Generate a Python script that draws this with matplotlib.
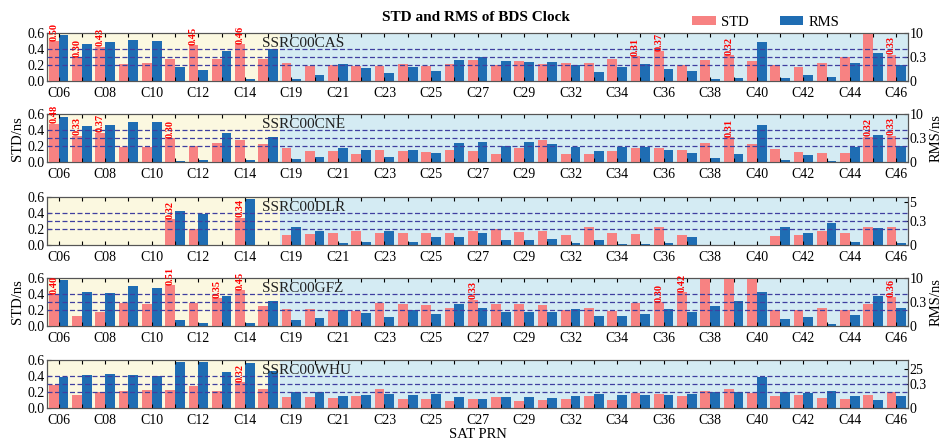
import numpy as np
import matplotlib
matplotlib.use('Agg')
import matplotlib.pyplot as plt

plt.rcParams['font.family'] = ['Liberation Serif', 'DejaVu Serif']
plt.rcParams['font.size'] = 10

nan = np.nan

# satellites (BDS PRN)
sats = ['C06', 'C07', 'C08', 'C09', 'C10', 'C11', 'C12', 'C13', 'C14', 'C16',
        'C19', 'C20', 'C21', 'C22', 'C23', 'C24', 'C25', 'C26', 'C27', 'C28',
        'C29', 'C30', 'C32', 'C33', 'C34', 'C35', 'C36', 'C37', 'C38', 'C39',
        'C40', 'C41', 'C42', 'C43', 'C44', 'C45', 'C46']

centers = ['SSRC00CAS', 'SSRC00CNE', 'SSRC00DLR', 'SSRC00GFZ', 'SSRC00WHU']

# STD (ns)
std_cas = [0.50, 0.30, 0.43, 0.21, 0.23, 0.28, 0.45, 0.27, 0.46, 0.27,
           0.22, 0.19, 0.195, 0.19, 0.19, 0.21, 0.19, 0.21, 0.26, 0.195,
           0.245, 0.21, 0.23, 0.23, 0.275, 0.31, 0.37, 0.20, 0.265, 0.32,
           0.245, 0.20, 0.175, 0.23, 0.295, 0.80, 0.33]
std_cne = [0.48, 0.33, 0.37, 0.185, 0.185, 0.30, 0.20, 0.245, 0.275, 0.23,
           0.18, 0.145, 0.135, 0.10, 0.155, 0.135, 0.13, 0.15, 0.145, 0.105,
           0.175, 0.275, 0.105, 0.105, 0.145, 0.175, 0.18, 0.15, 0.235, 0.31,
           0.23, 0.16, 0.13, 0.12, 0.12, 0.32, 0.33]
std_dlr = [nan, nan, nan, nan, nan, 0.32, 0.20, nan, 0.34, nan,
           0.13, 0.135, 0.145, 0.18, 0.145, 0.15, 0.155, 0.155, 0.178, 0.20,
           0.157, 0.18, 0.125, 0.225, 0.145, 0.135, 0.22, 0.13, nan, nan,
           nan, 0.11, 0.13, 0.18, 0.15, 0.23, 0.22]
std_gfz = [0.40, 0.125, 0.175, 0.29, 0.27, 0.51, 0.29, 0.35, 0.45, 0.245,
           0.21, 0.21, 0.195, 0.19, 0.29, 0.27, 0.265, 0.23, 0.33, 0.28,
           0.27, 0.26, 0.20, 0.23, 0.185, 0.29, 0.30, 0.42, 0.85, 0.90,
           0.80, 0.205, 0.205, 0.23, 0.20, 0.28, 0.36]
std_whu = [0.285, 0.165, 0.205, 0.215, 0.225, 0.225, 0.28, 0.215, 0.32, 0.235,
           0.135, 0.14, 0.12, 0.15, 0.24, 0.115, 0.11, 0.09, 0.115, 0.135,
           0.09, 0.105, 0.11, 0.15, 0.105, 0.19, 0.18, 0.155, 0.21, 0.235,
           0.185, 0.155, 0.16, 0.125, 0.11, 0.165, 0.205]

# RMS (ns)
rms_cas = [9.19, 5.63, 6.31, 7.09, 6.77, 0.17, 0.14, 2.89, 0.02, 3.53,
           0.03, 0.07, 0.21, 0.165, 0.10, 0.17, 0.13, 0.26, 0.30, 0.245,
           0.24, 0.24, 0.195, 0.11, 0.17, 0.21, 0.15, 0.12, 0.03, 0.04,
           6.44, 0.04, 0.07, 0.055, 0.22, 1.92, 0.195]
rms_cne = [9.03, 5.15, 5.47, 6.77, 6.77, 0.013, 0.03, 2.56, 0.025, 0.62,
           0.04, 0.07, 0.175, 0.15, 0.065, 0.15, 0.12, 0.24, 0.25, 0.205,
           0.25, 0.225, 0.195, 0.135, 0.195, 0.195, 0.155, 0.12, 0.055, 0.10,
           5.47, 0.03, 0.085, 0.015, 0.195, 1.75, 0.205]
rms_dlr = [nan, nan, nan, nan, nan, 2.74, 2.03, nan, 5.79, nan,
           0.22, 0.175, 0.02, 0.04, 0.175, 0.035, 0.10, 0.095, 0.15, 0.066,
           0.066, 0.075, 0.02, 0.06, 0.015, 0.01, 0.025, 0.10, nan, nan,
           nan, 0.22, 0.155, 0.28, 0.035, 0.21, 0.025]
rms_gfz = [9.19, 4.18, 3.86, 6.60, 6.12, 0.08, 0.04, 2.56, 0.04, 0.78,
           0.07, 0.10, 0.20, 0.165, 0.11, 0.195, 0.145, 0.275, 0.22, 0.18,
           0.18, 0.18, 0.21, 0.13, 0.12, 0.15, 0.215, 0.17, 0.245, 0.78,
           4.50, 0.085, 0.11, 0.02, 0.14, 2.89, 0.23]
rms_whu = [11.55, 14.86, 16.84, 14.86, 14.2, 36.69, 36.03, 20.81, 35.37, 22.13,
           0.20, 0.20, 0.145, 0.16, 0.18, 0.16, 0.18, 0.135, 0.115, 0.14,
           0.14, 0.13, 0.155, 0.175, 0.16, 0.16, 0.16, 0.175, 0.20, 0.20,
           11.55, 0.205, 0.19, 0.21, 0.15, 0.105, 0.145]

std_all = [std_cas, std_cne, std_dlr, std_gfz, std_whu]
rms_all = [rms_cas, rms_cne, rms_dlr, rms_gfz, rms_whu]

# right axis: linear up to 0.3, compressed above
rms_top = [10, 10, 6.4, 10, 40]
rms_tick = [10, 10, 5, 10, 25]

c_std = '#f78282'
c_rms = '#1f6db3'
c_geo = '#fbf8e0'
c_meo = '#d4ebf3'
c_dash = '#3f3fa0'


def make_scale(top):
    k = 0.3 / (top - 0.3)

    def fwd(r):
        r = np.asarray(r, dtype=float)
        return np.where(r <= 0.3, r, 0.3 + (r - 0.3) * k)

    def inv(y):
        y = np.asarray(y, dtype=float)
        return np.where(y <= 0.3, y, 0.3 + (y - 0.3) / k)
    return fwd, inv


fig = plt.figure(figsize=(9.41, 4.41), dpi=100)
x = np.arange(len(sats))
w = 0.42
bottoms = [0.8163, 0.632, 0.4444, 0.2608, 0.0748]
ax_h = 0.109

for i in range(5):
    ax = fig.add_axes([0.05, bottoms[i], 0.915, ax_h])
    ax2 = ax.twinx()
    # ax2 (RMS + background) sits behind ax (STD + guides)
    ax.set_zorder(ax2.get_zorder() + 1)
    ax.patch.set_visible(False)

    ax2.set_yscale('function', functions=make_scale(rms_top[i]))
    ax2.set_ylim(0, rms_top[i])
    ax2.axvspan(-0.5, 9.5, color=c_geo, lw=0, zorder=0)
    ax2.axvspan(9.5, len(sats) - 0.5, color=c_meo, lw=0, zorder=0)
    b_rms = ax2.bar(x + w / 2, rms_all[i], w, color=c_rms, zorder=2, label='RMS')

    std = np.array(std_all[i])
    b_std = ax.bar(x - w / 2, std, w, color=c_std, zorder=2, label='STD')
    for lv in (0.2, 0.3, 0.4):
        ax.axhline(lv, color=c_dash, ls=(0, (4, 2)), lw=0.9, zorder=3)
    for xi, v in zip(x, std):
        if 0.3 <= v <= 0.6:
            ax.text(xi - w / 2, v + 0.005, f'{v:.2f}', rotation=90, ha='center',
                    va='bottom', color='red', fontsize=7.5, fontweight='bold',
                    clip_on=False, zorder=4)

    ax.text(0.25, 0.78, centers[i], transform=ax.transAxes, fontsize=11,
            va='center', ha='left', color='#222222')

    ax.set_xlim(-0.5, len(sats) - 0.5)
    ax.set_ylim(0, 0.6)
    ax.set_yticks([0.0, 0.2, 0.4, 0.6])
    ax.set_yticklabels(['0.0', '0.2', '0.4', '0.6'])
    ax.set_xticks(x)
    ax.set_xticklabels([s if j % 2 == 0 else '' for j, s in enumerate(sats)])
    ax.tick_params(axis='x', direction='in', top=True, length=3, pad=4,
                   labelsize=10)
    ax.tick_params(axis='y', direction='in', length=3, pad=2, labelsize=10)

    ax2.set_yticks([0, 0.3, rms_tick[i]])
    ax2.set_yticklabels(['0', '0.3', str(rms_tick[i])])
    ax2.yaxis.set_minor_locator(matplotlib.ticker.NullLocator())
    ax2.tick_params(axis='y', direction='in', length=3, pad=1, labelsize=10)

    for a in (ax, ax2):
        for sp in a.spines.values():
            sp.set_color('#555555')
            sp.set_linewidth(0.8)

    if i in (1, 3):
        ax.set_ylabel('STD/ns', fontsize=10.5, labelpad=2)
        ax2.set_ylabel('RMS/ns', fontsize=10.5, labelpad=2)
    if i == 4:
        ax.set_xlabel('SAT PRN', fontsize=10.5, labelpad=1)
    if i == 0:
        fig.legend(handles=[b_std, b_rms], labels=['STD', 'RMS'], ncol=2,
                   loc='center', bbox_to_anchor=(0.814, 0.95), frameon=False,
                   handlelength=1.6, handleheight=0.6, handletextpad=0.4,
                   columnspacing=2.1, fontsize=10.5)

fig.text(0.506, 0.961, 'STD and RMS of BDS Clock', ha='center', va='center',
         fontsize=11, fontweight='bold')

fig.savefig('out.png', dpi=100)
